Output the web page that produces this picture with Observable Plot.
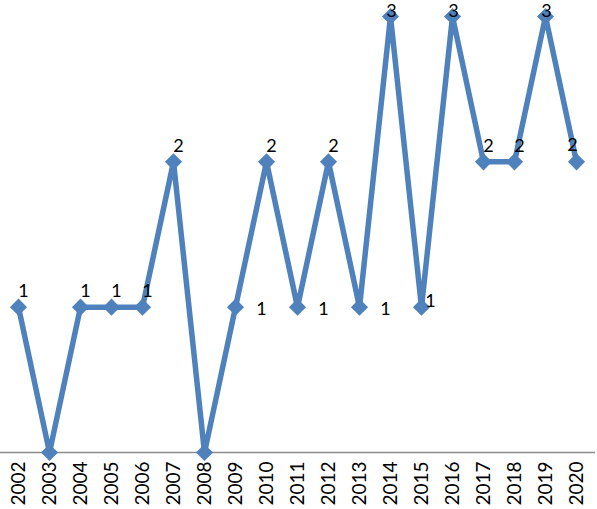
<!DOCTYPE html>
<html>
<head>
<meta charset="utf-8">
<script src="https://cdn.jsdelivr.net/npm/d3@7"></script>
<script src="https://cdn.jsdelivr.net/npm/@observablehq/plot@0.6"></script>
<style>
  html, body { margin: 0; padding: 0; background: #fff; }
  #chart svg { display: block; }
</style>
</head>
<body>
<div id="chart"></div>
<script>
const years = ["2002","2003","2004","2005","2006","2007","2008","2009","2010","2011","2012","2013","2014","2015","2016","2017","2018","2019","2020"];
const counts = [1,0,1,1,1,2,0,1,2,1,2,1,3,1,3,2,2,3,2];
// label placement per point (none for zero)
const labelPlacement = ["above","none","above","above","above","above","none","right","above","right","above","right","top","aboveR","top","above","above","top","aboveL"];

const data = years.map((y, i) => ({year: y, value: counts[i], place: labelPlacement[i]}));
const labeled = data.filter(d => d.place !== "none");

const dxFor = p => ({above: 5, right: 26, top: 1, aboveR: 9, aboveL: -4}[p]);
const dyFor = p => ({above: -16, right: 2, top: -5, aboveR: -6, aboveL: -17}[p]);

const blue = "#4f81bd";
const font = "Lato, 'Open Sans', sans-serif";

const chart = Plot.plot({
  width: 597,
  height: 509,
  marginLeft: 14,
  marginRight: 17,
  marginTop: 16,
  marginBottom: 57,
  style: {fontFamily: font, background: "#fff", overflow: "visible"},
  x: {type: "point", domain: years, padding: 0, label: null},
  y: {domain: [0, 3], label: null, axis: null},
  marks: [
    Plot.ruleY([0], {stroke: "#8c8c8c", strokeWidth: 1.5, insetLeft: -14, insetRight: -15}),
    Plot.axisX({tickSize: 0, tickPadding: 9, tickRotate: -90, fontSize: 19, fill: "#000", label: null}),
    Plot.line(data, {x: "year", y: "value", stroke: blue, strokeWidth: 5.5, strokeLinejoin: "miter"}),
    Plot.dot(data, {x: "year", y: "value", symbol: "diamond2", r: 7.7, fill: blue, stroke: "none"}),
    ...["above","right","top","aboveR","aboveL"].map(p =>
      Plot.text(labeled.filter(d => d.place === p), {
        x: "year", y: "value", text: d => String(d.value),
        dx: dxFor(p), dy: dyFor(p), fontSize: 18, fill: "#000"
      })
    )
  ]
});
document.getElementById("chart").appendChild(chart);
</script>
</body>
</html>
